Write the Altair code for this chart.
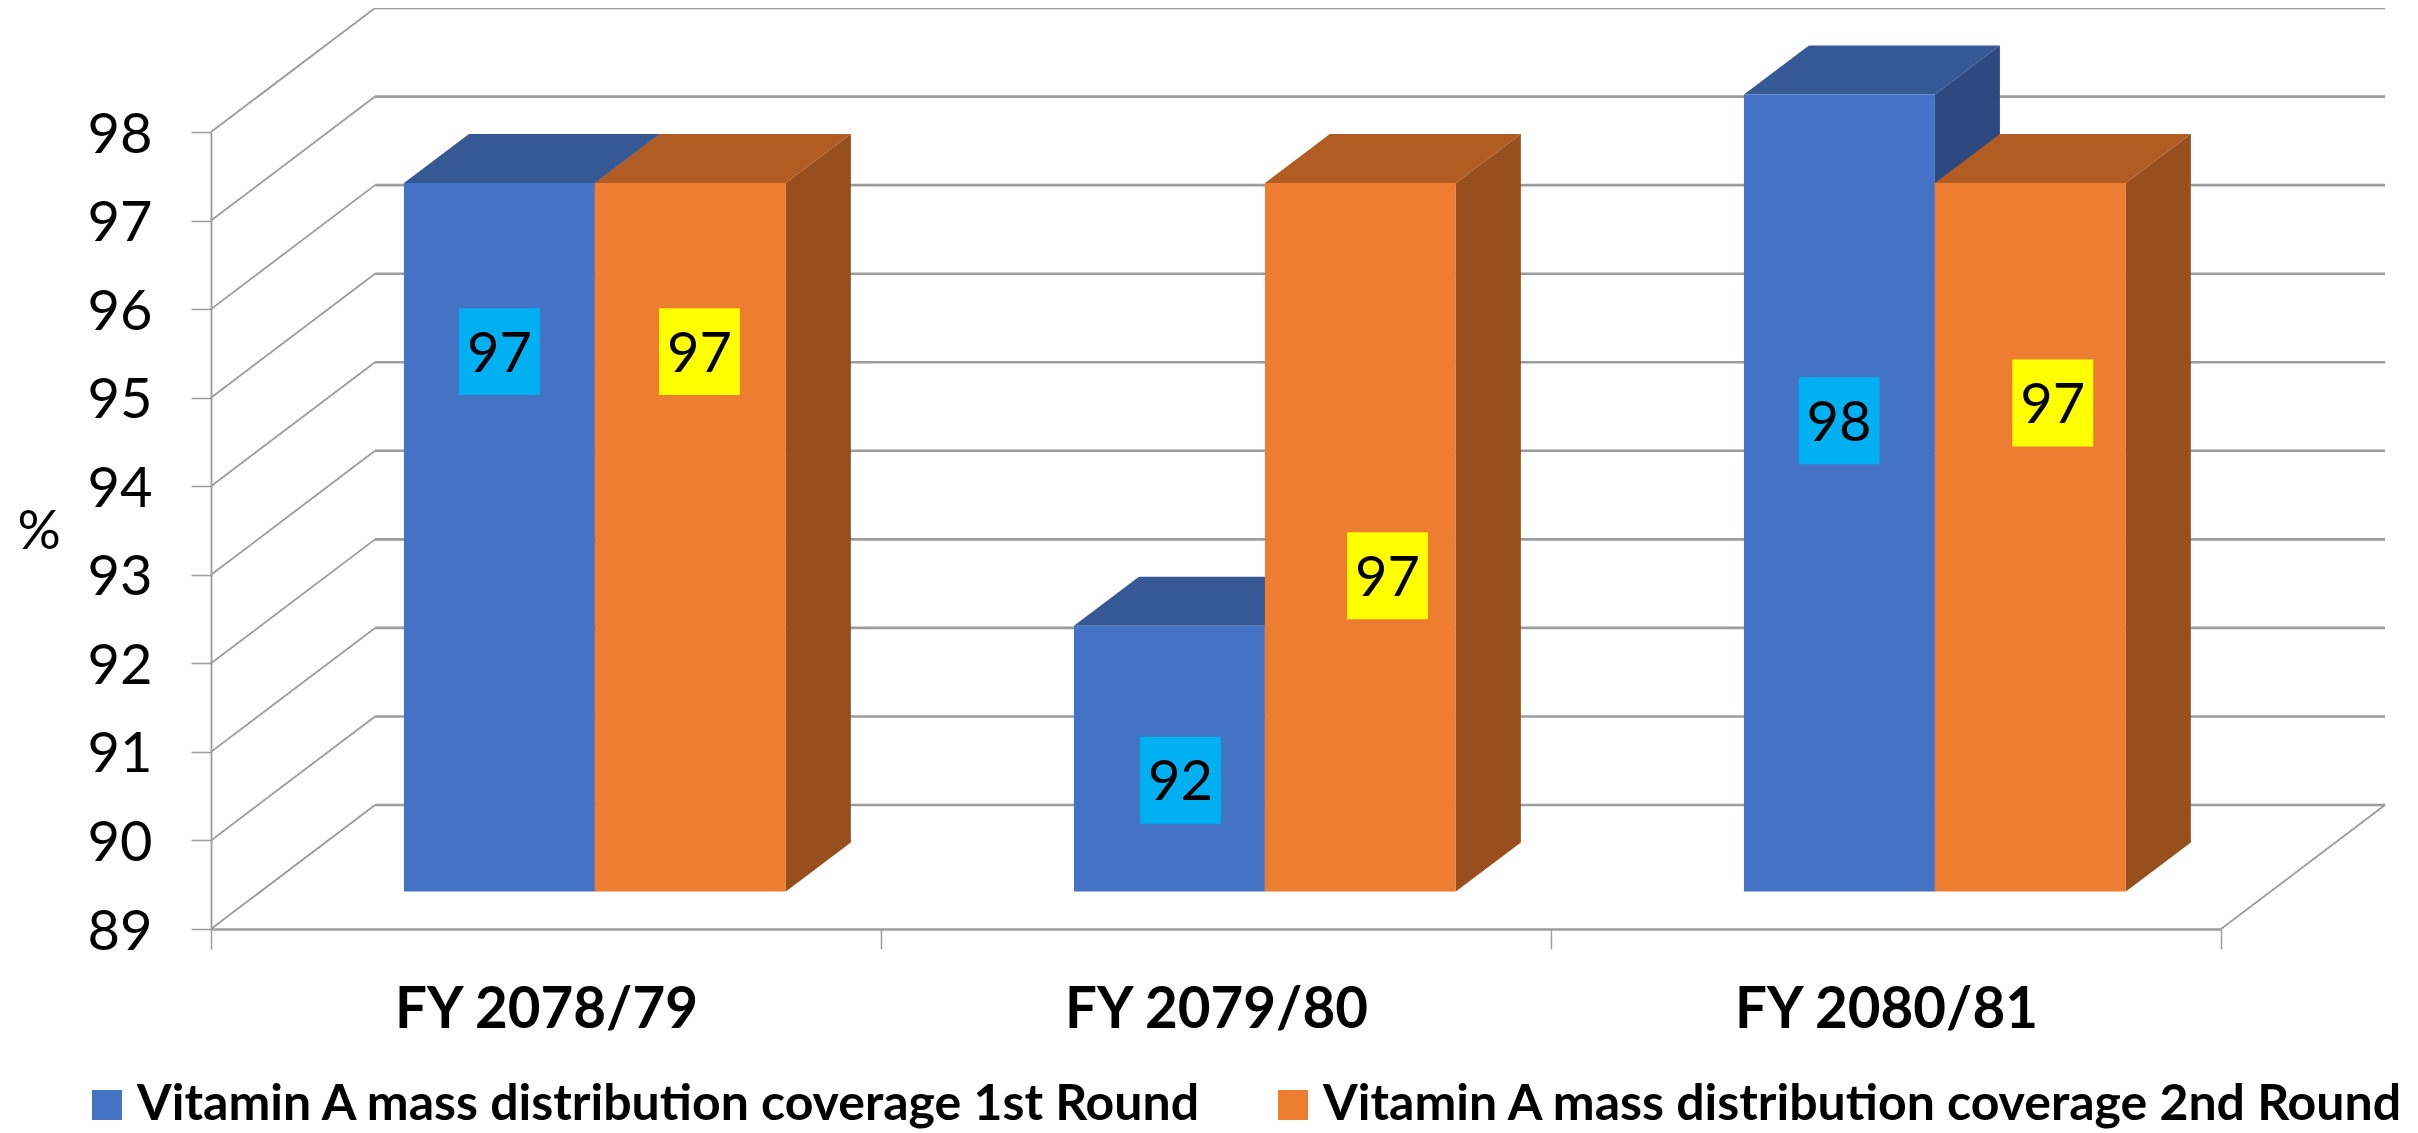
import altair as alt
import pandas as pd

# ---- values ----
categories = ["FY 2078/79", "FY 2079/80", "FY 2080/81"]
round_1 = [97, 92, 98]
round_2 = [97, 97, 97]
series = ["Vitamin A mass distribution coverage 1st Round",
          "Vitamin A mass distribution coverage 2nd Round"]
y_ticks = [89, 90, 91, 92, 93, 94, 95, 96, 97, 98]

# ---- layout, in the units of the scales ----
FONT = "Lato"
GRID = "#9c9c9c"
WALL_DX, WALL_DY = 0.2448, 1.40       # depth of the chart box
BAR_DX, BAR_DY = 0.097, 0.553         # depth of a bar
BAR_LEFT, BAR_W = 0.288, 0.285
LIFT = 0.4241                         # bars stand this far back on the floor
LABEL_HW, LABEL_HH = 0.0604, 0.491
label_x = [[0.4306, 0.729], [1.447, 1.756], [2.430, 2.749]]
label_y = [[95.52, 95.52], [90.68, 92.99], [94.74, 94.94]]
BLUE = dict(front="#4472C4", top="#365995", side="#2B497E", box="#00B0F0")
ORANGE = dict(front="#ED7D31", top="#B15C22", side="#964F1D", box="#FFFF00")

x_scale = alt.Scale(domain=[0, 3], nice=False, zero=False)
y_scale = alt.Scale(domain=[89, 98], nice=False, zero=False)

cat_js = "[" + ",".join(f"'{c}'" for c in categories) + "]"
x_axis = alt.Axis(
    title=None,
    values=[0, 0.5, 1, 1.5, 2, 2.5, 3], grid=False,
    domainColor=GRID, domainWidth=2.6,
    tickColor=GRID, tickWidth=1.5, tickSize=20,
    tickOpacity={"condition": {"test": "datum.value % 1 === 0", "value": 1}, "value": 0},
    labelExpr=f"datum.value % 1 === 0 ? '' : {cat_js}[floor(datum.value)]",
    labelFont=FONT, labelFontWeight="bold", labelFontSize=56.5, labelColor="black",
    labelLimit=800, labelPadding=33, labelOverlap=False, labelFlush=False, labelBound=False)
y_axis = alt.Axis(
    values=y_ticks, grid=False, format="d",
    domainColor=GRID, domainWidth=1.8,
    tickColor=GRID, tickWidth=1.5, tickSize=20,
    labelFont=FONT, labelFontSize=56, labelColor="black", labelPadding=39, labelOffset=3,
    labelOverlap=False, labelFlush=False, labelBound=False,
    title="%", titleAngle=0, titleX=-194, titleY=400, titleAlign="left",
    titleBaseline="middle", titleFont=FONT, titleFontWeight="normal",
    titleFontSize=54, titleColor="black")

X = lambda f: alt.X(f, type="quantitative", scale=x_scale, axis=x_axis)
Y = lambda f: alt.Y(f, type="quantitative", scale=y_scale, axis=y_axis)

# ---- box: back wall lines, slanted side lines ----
walls = pd.DataFrame({"v": y_ticks})
walls["x0"], walls["x1"] = WALL_DX, 3 + WALL_DX
walls["y1"] = walls["v"] + WALL_DY
walls["sx"], walls["sx2"] = 0, WALL_DX

back = alt.Chart(walls).mark_rule(color=GRID, strokeWidth=2.6).encode(
    x=X("x0:Q"), x2="x1:Q", y=Y("y1:Q"))
slants = alt.Chart(walls).mark_rule(color=GRID, strokeWidth=1.8).encode(
    x=X("sx:Q"), x2="sx2:Q", y=Y("v:Q"), y2="y1:Q")
right = alt.Chart(pd.DataFrame({"a": [3], "b": [3 + WALL_DX], "c": [y_ticks[0]],
                                "d": [y_ticks[0] + WALL_DY]})
                  ).mark_rule(color=GRID, strokeWidth=1.8).encode(
    x=X("a:Q"), x2="b:Q", y=Y("c:Q"), y2="d:Q")

# ---- bars ----
def bar_layers(values, col, colors):
    left = [i + BAR_LEFT + col * BAR_W for i in range(len(values))]
    rows = pd.DataFrame({"cat": categories, "v": values, "l": left,
                         "r": [a + BAR_W for a in left]})
    rows["top"] = rows["v"] + LIFT
    rows["base"] = y_ticks[0] + LIFT
    edge = []
    for _, b in rows.iterrows():
        for k in (0, 1):
            edge.append(dict(cat=b["cat"],
                             xl=b["l"] + k * BAR_DX, xr=b["r"] + k * BAR_DX,
                             yt=b["top"] + k * BAR_DY, yb=b["base"] + k * BAR_DY))
    edge = pd.DataFrame(edge)
    side = alt.Chart(edge).mark_area(fill=colors["side"], opacity=1).encode(
        x=X("xr:Q"), y=Y("yt:Q"), y2="yb:Q", detail="cat:N")
    top = alt.Chart(edge).mark_area(fill=colors["top"], opacity=1, orient="horizontal").encode(
        y=Y("yt:Q"), x=X("xl:Q"), x2="xr:Q", detail="cat:N")
    rows["s"] = series[col]
    front = alt.Chart(rows).mark_rect(opacity=1).encode(
        x=X("l:Q"), x2="r:Q", y=Y("top:Q"), y2="base:Q",
        color=alt.Color("s:N", scale=alt.Scale(domain=series,
                                               range=[BLUE["front"], ORANGE["front"]]),
                        legend=alt.Legend(
                            title=None, orient="none", legendX=-129, legendY=948,
                            direction="horizontal", columns=2, columnPadding=65,
                            symbolType="square", symbolSize=900, symbolStrokeWidth=0,
                            labelFont=FONT, labelFontWeight="bold", labelFontSize=50,
                            labelColor="black", labelLimit=1400, labelOffset=5,
                            padding=0)))
    return [side, top, front]

# ---- data labels ----
def label_layers(values, col, colors):
    d = pd.DataFrame({"t": [str(v) for v in values],
                      "x": [r[col] for r in label_x],
                      "y": [r[col] for r in label_y]})
    d["x0"], d["x1"] = d["x"] - LABEL_HW, d["x"] + LABEL_HW
    d["y0"], d["y1"] = d["y"] - LABEL_HH, d["y"] + LABEL_HH
    box = alt.Chart(d).mark_rect(fill=colors["box"]).encode(
        x=X("x0:Q"), x2="x1:Q", y=Y("y0:Q"), y2="y1:Q")
    txt = alt.Chart(d).mark_text(font=FONT, fontSize=56, color="black", dy=3,
                                 align="center", baseline="middle").encode(
        x=X("x:Q"), y=Y("y:Q"), text="t:N")
    return [box, txt]

chart = alt.layer(
    back, slants, right,
    *bar_layers(round_1, 0, BLUE),
    *bar_layers(round_2, 1, ORANGE),
    *label_layers(round_1, 0, BLUE),
    *label_layers(round_2, 1, ORANGE),
).properties(
    width=2010, height=797,
    autosize=alt.AutoSizeParams(type="none"),
    padding={"left": 203, "top": 124, "right": 189, "bottom": 204},
    background="white",
).configure_view(stroke=None)

chart.save("out.html", embed_options={"renderer": "svg", "actions": False})
